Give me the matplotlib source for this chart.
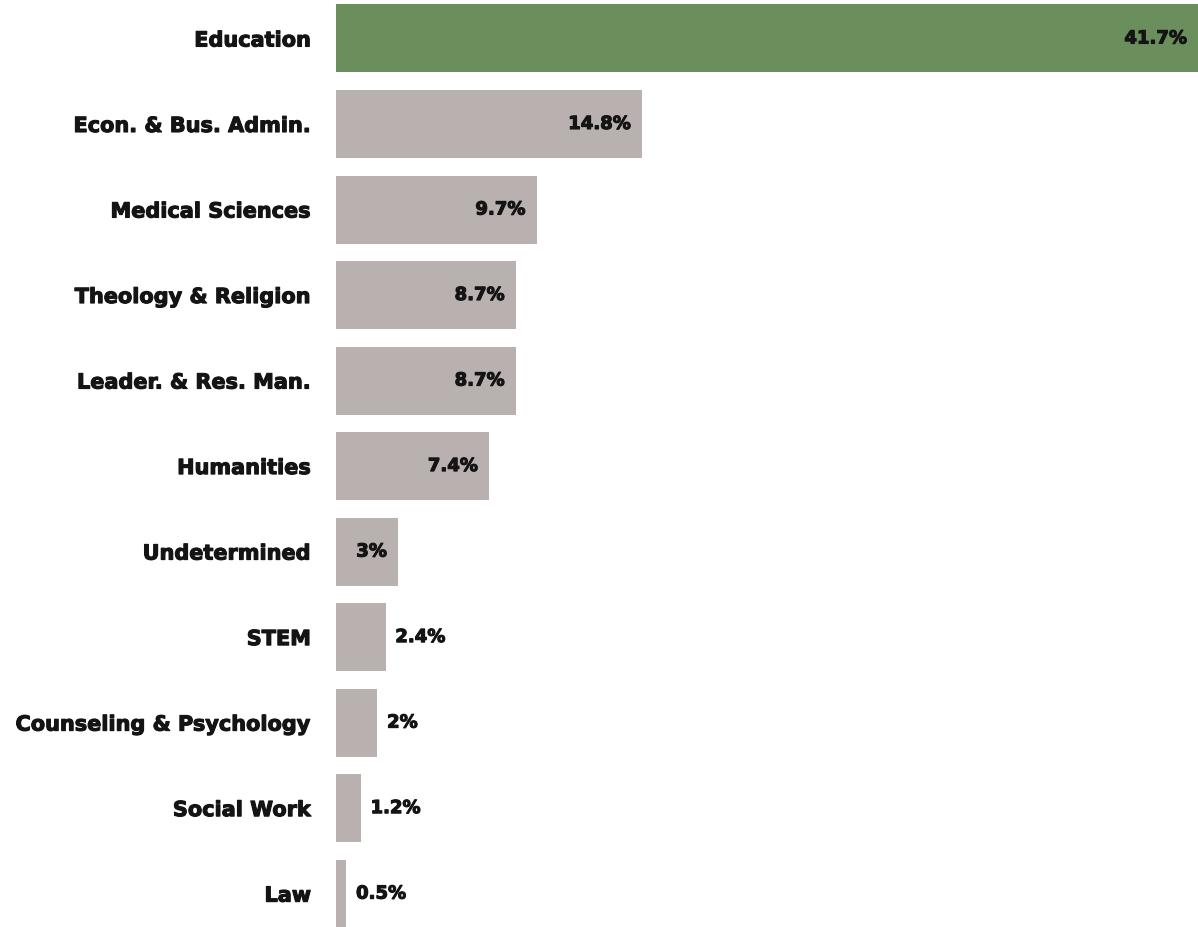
import matplotlib.pyplot as plt
import matplotlib.patheffects as pe
import numpy as np

fields = ["Education", "Econ. & Bus. Admin.", "Medical Sciences", "Theology & Religion",
          "Leader. & Res. Man.", "Humanities", "Undetermined", "STEM",
          "Counseling & Psychology", "Social Work", "Law"]
shares = [41.7, 14.8, 9.7, 8.7, 8.7, 7.4, 3, 2.4, 2, 1.2, 0.5]
share_labels = ["41.7%", "14.8%", "9.7%", "8.7%", "8.7%", "7.4%", "3%", "2.4%", "2%", "1.2%", "0.5%"]

green = "#6a8f5c"
grey = "#b8b1af"
ink = "#141414"

plt.rcParams['font.family'] = ['DejaVu Sans']
heavy = [pe.withStroke(linewidth=0.8, foreground=ink)]

fig = plt.figure(figsize=(11.98, 9.27), dpi=100)
ax = fig.add_axes([336 / 1198, 0, 1 - 336 / 1198, 1])

y_pos = np.arange(len(fields))
colors = [green] + [grey] * (len(fields) - 1)
ax.barh(y_pos, shares, height=0.795, color=colors, align='center')

# big bars get the label inside, small ones just past the end
for y, val, lab in zip(y_pos, shares, share_labels):
    if val >= 3:
        ax.annotate(lab, (val, y), xytext=(-8, 0), textcoords='offset points',
                    ha='right', va='center', fontsize=13, fontweight='bold', color=ink,
                    path_effects=heavy)
    else:
        ax.annotate(lab, (val, y), xytext=(7, 0), textcoords='offset points',
                    ha='left', va='center', fontsize=13, fontweight='bold', color=ink,
                    path_effects=heavy)

ax.set_yticks(y_pos)
ax.set_yticklabels(fields, fontsize=15, fontweight='bold', color=ink)
for t in ax.get_yticklabels():
    t.set_path_effects(heavy)
ax.tick_params(axis='y', length=0, pad=18)
ax.set_xticks([])
ax.set_xlim(0, 41.7)
ax.set_ylim(10.39, -0.45)
for s in ax.spines.values():
    s.set_visible(False)

fig.savefig("out.png", dpi=100)
